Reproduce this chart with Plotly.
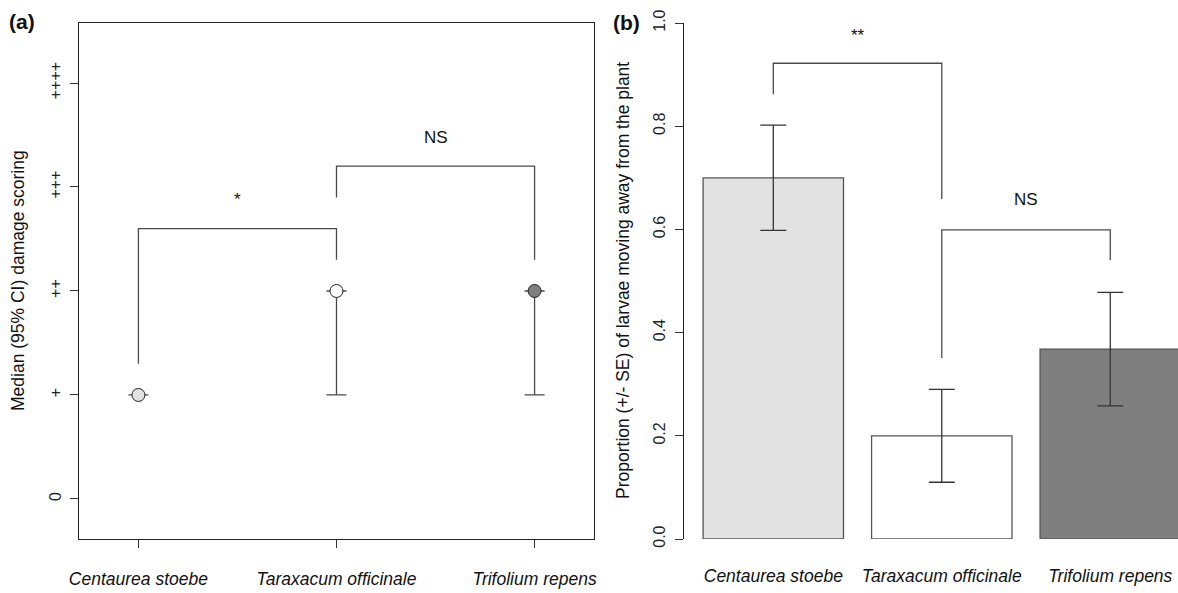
import plotly.graph_objects as go

# ---------------- data ----------------
species = ["Centaurea stoebe", "Taraxacum officinale", "Trifolium repens"]
damage_median = [1, 2, 2]
damage_ci_low = [1, 1, 1]
damage_ci_high = [1, 2, 2]
damage_ticks = [0, 1, 2, 3, 4]
damage_ticktext = ["0", "+", "++", "+++", "++++"]

prop_moving = [0.70, 0.20, 0.368]
prop_se = [0.102, 0.09, 0.11]
prop_ticks = [0.0, 0.2, 0.4, 0.6, 0.8, 1.0]
prop_ticktext = ["0.0", "0.2", "0.4", "0.6", "0.8", "1.0"]

# significance brackets: label, from, to, bar height, left foot, right foot, label height
sig_a = [("*", 0, 1, 2.6, 1.3, 2.3, 2.88), ("NS", 1, 2, 3.2, 2.9, 2.3, 3.48)]
sig_b = [("**", 0, 1, 0.922, 0.862, 0.659, 0.975), ("NS", 1, 2, 0.599, 0.351, 0.54, 0.657)]

fills = ["#e2e2e2", "#ffffff", "#7f7f7f"]

# ---------------- layout geometry (pixels) ----------------
W, H = 1178, 593
def px(x):
    return x / W
def py(y):
    return (H - y) / H

FONT = "Liberation Sans, Arial, sans-serif"
LINE = "#4a4a4a"

fig = go.Figure()

xi = list(range(len(species)))
# Panel (a): medians with CI
fig.add_trace(go.Scatter(
    x=xi, y=damage_median, mode="markers",
    marker=dict(size=13, color=fills, line=dict(color="#222222", width=1)),
    error_y=dict(type="data", symmetric=False,
                 array=[h - m for h, m in zip(damage_ci_high, damage_median)],
                 arrayminus=[m - l for m, l in zip(damage_median, damage_ci_low)],
                 color=LINE, thickness=1.3, width=10),
    xaxis="x", yaxis="y", showlegend=False, hoverinfo="skip"))

# Panel (b): bars with SE
fig.add_trace(go.Bar(
    x=xi, y=prop_moving, width=1 / 1.2,
    marker=dict(color=fills, line=dict(color="#555555", width=1.3)),
    error_y=dict(type="data", array=prop_se, color="#333333", thickness=1.3, width=13),
    xaxis="x2", yaxis="y2", showlegend=False, hoverinfo="skip"))

shapes = []
annotations = []
for lab, a, b, top, fa, fb, ty in sig_a:
    shapes.append(dict(type="path", xref="x", yref="y",
                       path=f"M {a},{fa} L {a},{top} L {b},{top} L {b},{fb}",
                       line=dict(color=LINE, width=1.3)))
    annotations.append(dict(x=(a + b) / 2, y=ty, xref="x", yref="y", text=lab,
                            xanchor="center", yanchor="middle",
                            showarrow=False, font=dict(size=17, color="#111111", family=FONT)))
for lab, a, b, top, fa, fb, ty in sig_b:
    shapes.append(dict(type="path", xref="x2", yref="y2",
                       path=f"M {a},{fa} L {a},{top} L {b},{top} L {b},{fb}",
                       line=dict(color=LINE, width=1.3)))
    annotations.append(dict(x=(a + b) / 2, y=ty, xref="x2", yref="y2", text=lab,
                            xanchor="center", yanchor="middle",
                            showarrow=False, font=dict(size=17, color="#111111", family=FONT)))

# panel labels and y titles
common = dict(xref="paper", yref="paper", showarrow=False, xanchor="center", yanchor="middle")
annotations += [
    dict(x=px(22), y=py(21), text="<b>(a)</b>",
         font=dict(size=21, color="#111111", family=FONT), **common),
    dict(x=px(626), y=py(23), text="<b>(b)</b>",
         font=dict(size=21, color="#111111", family=FONT), **common),
    dict(x=px(18), y=py(281), text="Median (95% CI) damage scoring", textangle=-90,
         font=dict(size=17.5, color="#111111", family=FONT), **common),
    dict(x=px(623), y=py(281), text="Proportion (+/- SE) of larvae moving away from the plant",
         textangle=-90, font=dict(size=17.5, color="#111111", family=FONT), **common),
]

tickfont = dict(size=16, color="#222222", family=FONT)
labfont = dict(size=17.5, color="#111111", family=FONT)

fig.update_layout(
    width=W, height=H, margin=dict(l=0, r=0, t=0, b=0),
    paper_bgcolor="white", plot_bgcolor="white",
    font=dict(family=FONT),
    shapes=shapes, annotations=annotations,
    xaxis=dict(domain=[px(79), px(594)], range=[-0.3, 2.3], automargin=False,
               tickvals=xi, ticktext=[f"<i>{s}</i>" for s in species],
               ticks="outside", ticklen=8, tickcolor="#333333", tickwidth=1,
               showline=True, linecolor="#222222", linewidth=1.3, mirror=True,
               showgrid=False, zeroline=False, tickfont=labfont, ticklabelstandoff=16),
    yaxis=dict(domain=[py(539), py(23)], range=[-0.385, 4.577], automargin=False,
               tickvals=damage_ticks, ticktext=damage_ticktext, tickangle=-90,
               ticks="outside", ticklen=8, tickcolor="#333333", tickwidth=1,
               showline=True, linecolor="#222222", linewidth=1.3, mirror=True,
               showgrid=False, zeroline=False, tickfont=tickfont, ticklabelstandoff=2),
    xaxis2=dict(domain=[px(684), 1.0], range=[-0.53, 2.402], automargin=False,
                tickvals=xi, ticktext=[f"<i>{s}</i>" for s in species],
                ticks="", showline=False, showgrid=False, zeroline=False,
                tickfont=labfont, ticklabelstandoff=24),
    yaxis2=dict(domain=[py(539), py(23)], range=[0, 1], anchor="x2", automargin=False,
                tickvals=prop_ticks, ticktext=prop_ticktext, tickangle=-90,
                ticks="outside", ticklen=8, tickcolor="#333333", tickwidth=1,
                showline=True, linecolor="#222222", linewidth=1.3,
                showgrid=False, zeroline=False, tickfont=tickfont, ticklabelstandoff=3),
)

fig.write_html("out.html")
